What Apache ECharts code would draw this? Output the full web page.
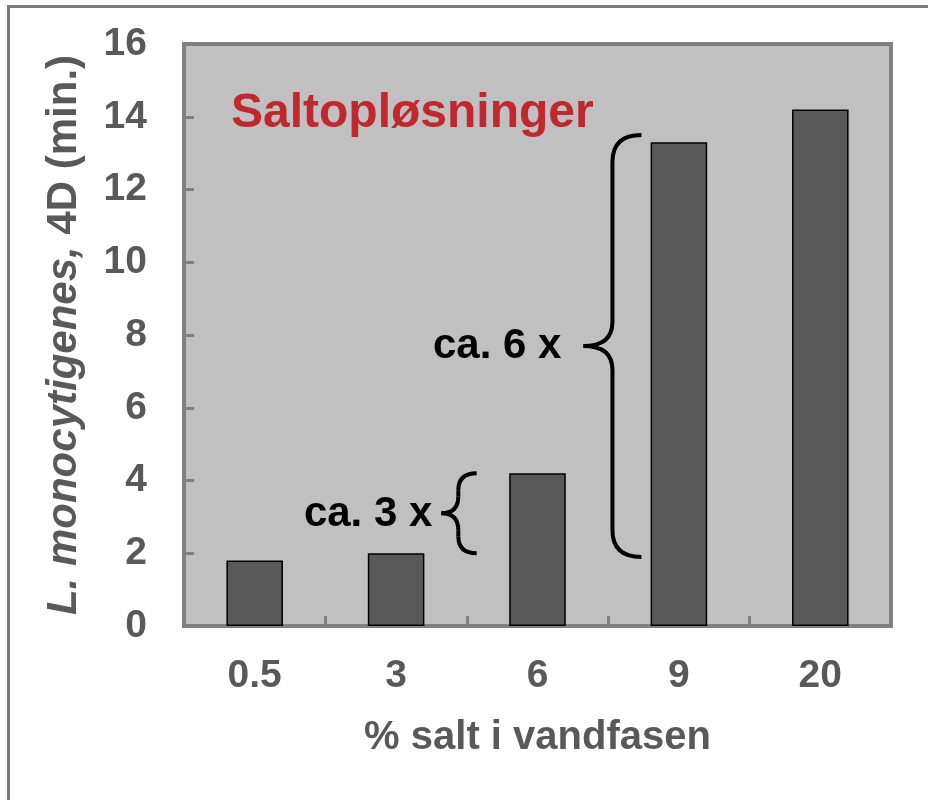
<!DOCTYPE html>
<html>
<head>
<meta charset="utf-8">
<script src="https://cdn.jsdelivr.net/npm/echarts@6/dist/echarts.min.js"></script>
<style>
  html, body { margin: 0; padding: 0; background: #ffffff; }
  #chart { width: 928px; height: 800px; }
</style>
</head>
<body>
<div id="chart"></div>
<script>
// Salt concentration in the water phase (%) and the 4D reduction time (min.)
const categories = ['0.5', '3', '6', '9', '20'];
const d4Minutes = [1.8, 2.0, 4.2, 13.3, 14.2];

// Value axis range
const yMin = 0;
const yMax = 16;
const yStep = 2;

// Fold-change braces: label, lower and upper value spanned, category pair between which it sits
const braceLabels = ['ca. 3 x', 'ca. 6 x'];
const braceLow = [2.0, 1.9];
const braceHigh = [4.2, 13.5];
const braceAfterCategory = [1, 2];

const chartTitle = 'Saltopløsninger';
const xTitle = '% salt i vandfasen';

const FONT = "'Liberation Sans', Arial, Helvetica, sans-serif";
const GREY_TEXT = '#595959';
const AXIS_GREY = '#808080';

const chart = echarts.init(document.getElementById('chart'), null, { renderer: 'canvas' });

chart.setOption({
  animation: false,
  backgroundColor: '#ffffff',
  grid: {
    left: 184, right: 37, top: 44, bottom: 174,
    show: true,
    backgroundColor: '#c0c0c0',
    borderColor: AXIS_GREY,
    borderWidth: 4
  },
  xAxis: {
    type: 'category',
    data: categories,
    axisLine: { show: false },
    axisTick: { show: true, inside: true, length: 10, lineStyle: { color: AXIS_GREY, width: 3 } },
    axisLabel: { margin: 31, fontFamily: FONT, fontWeight: 'bold', fontSize: 39, color: GREY_TEXT },
    name: xTitle,
    nameLocation: 'middle',
    nameGap: 92,
    nameTextStyle: { fontFamily: FONT, fontWeight: 'bold', fontSize: 40, color: GREY_TEXT },
    splitLine: { show: false }
  },
  yAxis: {
    type: 'value',
    min: yMin, max: yMax, interval: yStep,
    axisLine: { show: false },
    axisTick: { show: true, inside: true, length: 10, lineStyle: { color: AXIS_GREY, width: 3 } },
    axisLabel: { margin: 37, fontFamily: FONT, fontWeight: 'bold', fontSize: 39, color: GREY_TEXT },
    splitLine: { show: false },
    name: '{i|L. monocytigenes,}{n| 4D (min.)}',
    nameLocation: 'middle',
    nameRotate: 90,
    nameGap: 99,
    nameTextStyle: {
      rich: {
        i: { fontFamily: FONT, fontStyle: 'italic', fontWeight: 'bold', fontSize: 42, color: GREY_TEXT },
        n: { fontFamily: FONT, fontWeight: 'bold', fontSize: 42, color: GREY_TEXT }
      }
    }
  },
  series: [{
    type: 'bar',
    data: d4Minutes,
    barWidth: '40%',
    itemStyle: { color: '#595959', borderColor: '#000000', borderWidth: 1.5 }
  }]
});

const BRACE_STYLE = { fill: null, stroke: '#000000', lineWidth: 4, lineCap: 'butt' };

// Curly brace opening to the right, tip pointing left, built from quadratic curves and lines
function braceElements(xEnd, xV, xTip, yTop, yMid, yBot, r, m) {
  const curve = function (x1, y1, cx, cy, x2, y2) {
    return { type: 'bezierCurve', z: 10, shape: { x1: x1, y1: y1, cpx1: cx, cpy1: cy, x2: x2, y2: y2 }, style: BRACE_STYLE };
  };
  const line = function (x1, y1, x2, y2) {
    return { type: 'line', z: 10, shape: { x1: x1, y1: y1, x2: x2, y2: y2 }, style: BRACE_STYLE };
  };
  return [
    curve(xEnd, yTop, xV, yTop, xV, yTop + r),
    line(xV, yTop + r, xV, yMid - m),
    curve(xV, yMid - m, xV, yMid, xTip, yMid),
    curve(xTip, yMid, xV, yMid, xV, yMid + m),
    line(xV, yMid + m, xV, yBot - r),
    curve(xV, yBot - r, xV, yBot, xEnd, yBot)
  ];
}

function px(catIndex, value) {
  return chart.convertToPixel({ gridIndex: 0 }, [catIndex, value]);
}

const braceShapes = [
  { tip: 0.32, vert: 0.44, end: 0.57, r: 17, m: 17, gap: 9 },
  { tip: 0.325, vert: 0.53, end: 0.735, r: 27, m: 24, gap: 22 }
];

const graphics = [
  // Outer frame
  {
    type: 'rect', silent: true, z: 0,
    shape: { x: 8.5, y: 6.5, width: 1000, height: 1000 },
    style: { fill: null, stroke: '#7a7a7a', lineWidth: 3 }
  },
  {
    type: 'text', z: 10,
    style: {
      x: 231, y: 114, text: chartTitle,
      font: 'bold 48px ' + FONT, fill: '#c1272d',
      align: 'left', verticalAlign: 'middle'
    }
  }
];

braceLabels.forEach(function (label, k) {
  const ci = braceAfterCategory[k];
  const left = px(ci, 0)[0];
  const right = px(ci + 1, 0)[0];
  const span = right - left;
  const s = braceShapes[k];
  const yTop = px(ci, braceHigh[k])[1];
  const yBot = px(ci, braceLow[k])[1];
  const yMid = px(ci, (braceHigh[k] + braceLow[k]) / 2)[1];
  const xTip = left + s.tip * span;
  braceElements(left + s.end * span, left + s.vert * span, xTip, yTop, yMid, yBot, s.r, s.m)
    .forEach(function (el) { graphics.push(el); });
  graphics.push({
    type: 'text', z: 10,
    style: {
      x: xTip - s.gap, y: yMid + 1, text: label,
      font: 'bold 42px ' + FONT, fill: '#000000',
      align: 'right', verticalAlign: 'middle'
    }
  });
});

chart.setOption({ graphic: graphics });
</script>
</body>
</html>
